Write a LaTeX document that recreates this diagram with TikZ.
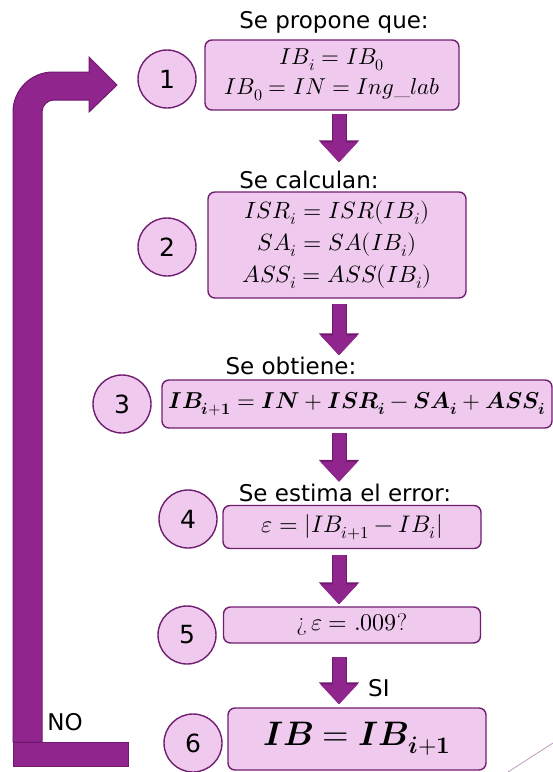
\documentclass[tikz,border=0pt]{standalone}
\usepackage{amsmath}
\usepackage{unicode-math}
\setmathfont{Latin Modern Math}
\usetikzlibrary{arrows.meta}
\newfontfamily\sansf{DejaVu Sans}
\definecolor{boxfill}{RGB}{240,202,238}
\definecolor{boxline}{RGB}{112,30,112}
\definecolor{arrowfill}{RGB}{145,37,142}
\definecolor{arrowline}{RGB}{112,24,110}

\begin{document}
\begin{tikzpicture}[x=1pt,y=-1pt,
  box/.style={draw=boxline,fill=boxfill,line width=1.4pt,rounded corners=7pt,
    minimum height=#1,align=center,inner sep=2pt,font=\fontsize{23}{30}\selectfont},
  num/.style={circle,draw=boxline,fill=boxfill,line width=1.4pt,minimum size=58pt,
    inner sep=0pt,font=\sansf\fontsize{25}{26}\selectfont},
  ttl/.style={font=\sansf\fontsize{23}{26}\selectfont,inner sep=0pt},
  fat/.style={arrowfill,line width=13pt,-{Triangle[width=36pt,length=20pt]},
    preaction={draw=arrowline,line width=15pt,-{Triangle[width=39pt,length=22pt]}}}]

\useasboundingbox (0,0) rectangle (553,772);

% ---------- steps ----------
\node[ttl] (t1) at (334,22) {Se propone que:};
\node[box=70pt,minimum width=254pt] (b1) at (332,75)
  {$IB_i = IB_0$\\$IB_0 = IN = Ing\_lab$};
\node[num] (c1) at (167,79) {1};

\node[ttl] (t2) at (309,180) {Se calculan:};
\node[box=106pt,minimum width=258pt,font=\fontsize{23.5}{32}\selectfont] (b2) at (337,245)
  {$ISR_i = ISR(IB_i)$\\$SA_i = SA(IB_i)$\\$ASS_i = ASS(IB_i)$};
\node[num] (c2) at (167,247) {2};

\node[ttl] (t3) at (291,366) {Se obtiene:};
\node[box=48pt,minimum width=390pt,inner sep=1pt] (b3) at (357,404)
  {$\symbfit{IB}_{\symbfit{i}+\symbf{1}} = \symbfit{IN} + \symbfit{ISR}_{\symbfit{i}}
   - \symbfit{SA}_{\symbfit{i}} + \symbfit{ASS}_{\symbfit{i}}$};
\node[num] (c3) at (122,404) {3};

\node[ttl] (t4) at (345,493) {Se estima el error:};
\node[box=43pt,minimum width=258pt,font=\fontsize{24}{28}\selectfont] (b4) at (352,527)
  {$\varepsilon = \lvert IB_{i+1} - IB_i\rvert$};
\node[num] (c4) at (188,519) {4};

\node[box=36pt,minimum width=257pt,font=\fontsize{24}{28}\selectfont] (b5) at (352,625)
  {¿\,$\varepsilon = .009$?};
\node[num] (c5) at (187,635) {5};

\node[box=62pt,minimum width=258pt,font=\fontsize{34}{38}\selectfont] (b6) at (357,739)
  {$\symbfit{IB} = \symbfit{IB}_{\symbfit{i}+\symbf{1}}$};
\node[num] (c6) at (193,743) {6};

% ---------- arrows ----------
\coordinate (ax) at (339,0);
\draw[fat,shorten <=3pt,shorten >=29pt] (b1.south -| ax) -- (b2.north -| ax);
\draw[fat,shorten <=5pt,shorten >=24pt] (b2.south -| ax) -- (b3.north -| ax);
\draw[fat,shorten <=4pt,shorten >=23pt] (b3.south -| ax) -- (b4.north -| ax);
\draw[fat,shorten <=6pt,shorten >=2pt] (b4.south -| ax) -- (b5.north -| ax);
\draw[fat,shorten <=13pt,shorten >=3pt] (b5.south -| ax) -- (b6.north -| ax);
\node[ttl,anchor=west] (si) at (368,688) {SI};

% loop back
\filldraw[fill=arrowfill,draw=arrowline,line width=1pt]
  (13,742) -- (13,112) arc[start angle=180,end angle=270,radius=40]
  -- (89,72) -- (89,57) -- (117,85) -- (89,112) -- (89,100) -- (54,100)
  arc[start angle=270,end angle=180,radius=12] -- (42,742) -- cycle;
\filldraw[fill=arrowfill,draw=arrowline,line width=1pt] (13,742) rectangle (128,766);
\node[ttl] (no) at (65,722) {NO};

% corner line
\draw[boxline!45,line width=0.8pt] (508,772) -- (553,743);
\end{tikzpicture}
\end{document}
